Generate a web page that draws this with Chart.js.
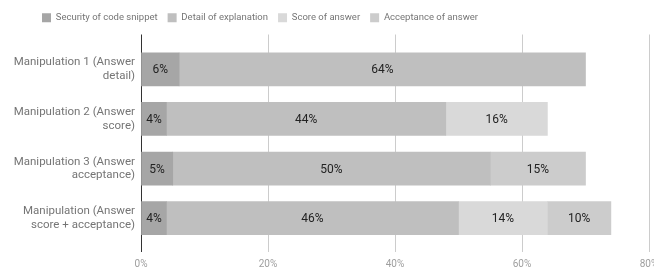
<!DOCTYPE html>
<html>
<head>
<meta charset="utf-8">
<script src="https://cdn.jsdelivr.net/npm/chart.js@4"></script>
<style>
  html, body { margin: 0; padding: 0; background: #ffffff; }
  #wrap { width: 654px; height: 269px; position: relative; }
</style>
</head>
<body>
<div id="wrap"><canvas id="c"></canvas></div>
<script>
const categories = [
  ["Manipulation 1 (Answer", "detail)"],
  ["Manipulation 2 (Answer", "score)"],
  ["Manipulation 3 (Answer", "acceptance)"],
  ["Manipulation (Answer", "score + acceptance)"]
];
const seriesNames = ["Security of code snippet", "Detail of explanation", "Score of answer", "Acceptance of answer"];
const security = [6, 4, 5, 4];
const detail = [64, 44, 50, 46];
const score = [null, 16, null, 14];
const acceptance = [null, null, 15, 10];
const xTicks = [0, 20, 40, 60, 80];

const colors = ["#a6a6a6", "#bfbfbf", "#d9d9d9", "#cccccc"];
const seriesValues = [security, detail, score, acceptance];

const labelPlugin = {
  id: 'segLabels',
  afterLayout(chart) {
    if (chart.legend) {
      chart.legend.left = 32;
    }
  },
  afterDatasetsDraw(chart) {
    const ctx = chart.ctx;
    ctx.save();
    ctx.font = '12px Roboto';
    ctx.fillStyle = '#222222';
    ctx.textAlign = 'center';
    ctx.textBaseline = 'middle';
    chart.data.datasets.forEach((ds, i) => {
      const meta = chart.getDatasetMeta(i);
      meta.data.forEach((el, j) => {
        const v = ds.data[j];
        if (v === null || v === undefined) return;
        const cx = (el.x + el.base) / 2;
        ctx.fillText(v + '%', cx, el.y + 1);
      });
    });
    ctx.restore();
  }
};

new Chart(document.getElementById('c'), {
  type: 'bar',
  data: {
    labels: categories,
    datasets: seriesValues.map((vals, i) => ({
      label: seriesNames[i],
      data: vals,
      backgroundColor: colors[i],
      borderWidth: 0,
      barThickness: 33,
      xAxisID: 'x',
      yAxisID: 'y'
    }))
  },
  options: {
    indexAxis: 'y',
    responsive: true,
    maintainAspectRatio: false,
    animation: false,
    layout: { padding: { top: 3, left: 0, right: 5, bottom: 0 } },
    plugins: {
      legend: {
        position: 'top',
        align: 'start',
        labels: {
          boxWidth: 9,
          boxHeight: 9,
          padding: 10,
          color: '#757575',
          font: { family: 'Roboto', size: 9.5 }
        }
      },
      tooltip: { enabled: false }
    },
    scales: {
      x: {
        position: 'bottom',
        stacked: true,
        min: 0,
        max: 80,
        afterBuildTicks(scale) { scale.ticks = xTicks.map(v => ({ value: v })); },
        afterFit(scale) { scale.paddingRight = 0; scale.paddingLeft = 0; scale.height = 26; },
        ticks: {
          padding: 6,
          color: '#9e9e9e',
          font: { family: 'Roboto', size: 10 },
          maxRotation: 0,
          callback: v => v + '%'
        },
        grid: {
          drawTicks: true,
          tickLength: 9,
          color: c => (c.tick && c.tick.value === 0) ? '#333333' : '#cccccc',
          lineWidth: 1
        },
        border: { display: false }
      },
      x2: {
        position: 'top',
        min: 0,
        max: 80,
        afterBuildTicks(scale) { scale.ticks = xTicks.map(v => ({ value: v })); },
        afterFit(scale) { scale.paddingRight = 0; scale.paddingLeft = 0; scale.height = 12; },
        ticks: { display: false },
        grid: {
          drawOnChartArea: false,
          drawTicks: true,
          tickLength: 10,
          color: c => (c.tick && c.tick.value === 0) ? '#333333' : '#cccccc',
          lineWidth: 1
        },
        border: { display: false }
      },
      y: {
        stacked: true,
        afterFit(scale) { scale.width = 141; },
        ticks: {
          padding: 6,
          color: '#757575',
          font: { family: 'Roboto', size: 11.5 }
        },
        grid: { display: false, drawTicks: false },
        border: { display: false }
      }
    }
  },
  plugins: [labelPlugin]
});
</script>
</body>
</html>
